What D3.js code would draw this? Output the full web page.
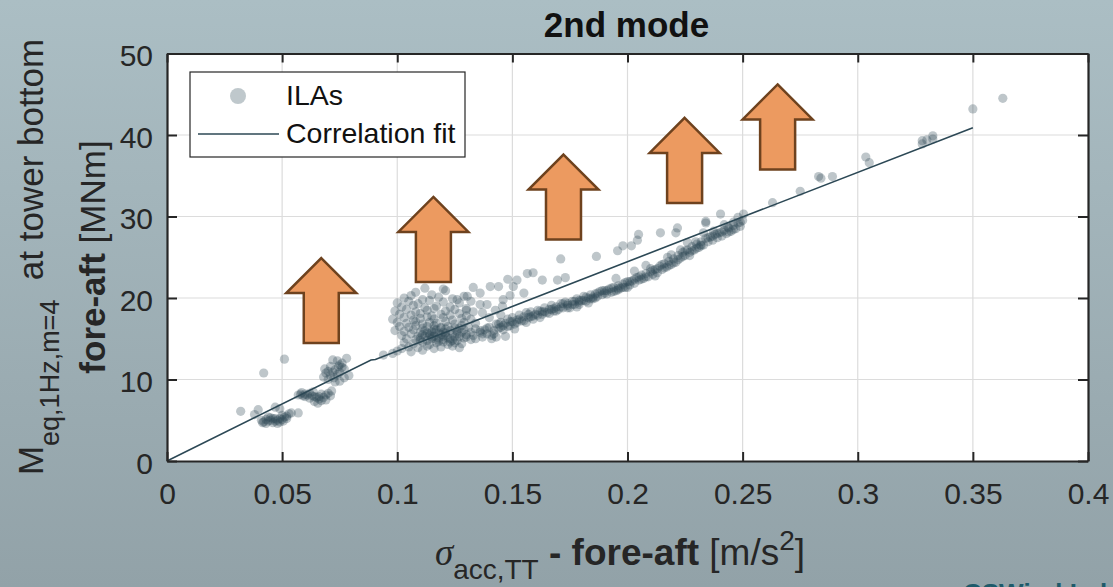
<!DOCTYPE html>
<html><head><meta charset="utf-8">
<script src="https://cdn.jsdelivr.net/npm/d3@7"></script>
<style>
html,body{margin:0;padding:0;overflow:hidden;background:#a0b2b8;}
svg{display:block;font-family:"Liberation Sans",Arial,sans-serif;}
</style></head><body>
<svg id="chart" width="1113" height="587"></svg>
<script>
// ---------- data ----------
const titleText = "2nd mode";
const xTicks = [0, 0.05, 0.1, 0.15, 0.2, 0.25, 0.3, 0.35, 0.4];
const xTickLabels = ["0", "0.05", "0.1", "0.15", "0.2", "0.25", "0.3", "0.35", "0.4"];
const yTicks = [0, 10, 20, 30, 40, 50];
const yTickLabels = ["0", "10", "20", "30", "40", "50"];
const legendLabels = ["ILAs", "Correlation fit"];

// correlation fit (x in m/s^2, y in MNm)
const fitX = [0, 0.0886, 0.0905, 0.35];
const fitY = [0, 12.4, 12.45, 40.9];

// ILA scatter clusters, [sigma_acc, M_eq]
const ilaLowA = [
[0.041,5.0],[0.042,4.8],[0.043,5.1],[0.044,4.9],[0.045,5.0],[0.046,4.7],[0.047,4.9],[0.048,5.0],[0.049,5.2],[0.050,5.1],
[0.051,5.4],[0.052,5.5],[0.053,5.8],[0.054,5.9],[0.045,5.3],[0.047,5.2],[0.049,4.8],[0.043,4.6],[0.046,5.2],[0.050,5.6],
[0.048,4.6],[0.052,5.2],[0.044,5.4],[0.0415,4.7],[0.0505,4.9],
[0.032,6.1],[0.0396,6.3],[0.042,10.8],[0.051,12.5],[0.047,6.6],[0.049,6.4],[0.057,5.9],[0.038,5.7]
];
const ilaLowB = [
[0.057,8.1],[0.058,8.2],[0.059,8.0],[0.060,8.2],[0.061,8.1],[0.062,8.3],[0.063,8.0],[0.064,7.9],[0.065,7.8],[0.066,7.6],
[0.067,7.4],[0.066,7.9],[0.068,7.8],[0.069,8.1],[0.070,8.3],[0.071,8.0],[0.0655,7.1],[0.064,7.3],[0.067,8.2],[0.062,7.7],
[0.069,7.5],[0.0715,8.6],[0.060,7.9],[0.0585,8.4],[0.0635,8.5]
];
const ilaLowC = [
[0.068,10.3],[0.069,10.8],[0.070,11.0],[0.071,10.5],[0.072,10.9],[0.073,11.2],[0.074,10.6],[0.075,10.9],[0.076,11.5],[0.077,10.2],
[0.075,9.8],[0.073,9.7],[0.071,11.6],[0.072,12.4],[0.074,12.3],[0.076,12.0],[0.078,12.6],[0.070,10.0],[0.075,11.8],[0.077,11.3],
[0.079,10.5],[0.0725,10.2],[0.0685,11.3],[0.0745,11.6]
];
const ilaBlob = [
[0.108,20.7],[0.115,20.4],[0.121,20.9],[0.112,21.2],
[0.103,20.0],[0.111,19.8],[0.118,20.1],[0.124,19.9],[0.129,20.2],[0.106,20.3],
[0.100,19.4],[0.105,19.6],[0.109,19.3],[0.114,19.7],[0.120,19.5],[0.127,19.4],[0.132,19.6],
[0.102,18.9],[0.107,19.1],[0.112,18.8],[0.117,19.0],[0.123,18.9],[0.130,18.7],
[0.099,18.4],[0.104,18.6],[0.108,18.3],[0.113,18.5],[0.116,18.7],[0.121,18.4],[0.125,18.6],[0.133,18.3],
[0.101,18.0],[0.106,17.9],[0.110,18.1],[0.115,17.8],[0.119,18.0],[0.123,17.9],[0.127,18.1],[0.130,17.8],
[0.098,17.4],[0.103,17.6],[0.107,17.3],[0.110,17.5],[0.113,17.7],[0.116,17.4],[0.120,17.6],[0.124,17.3],[0.128,17.5],[0.132,17.4],
[0.100,17.0],[0.104,16.9],[0.108,17.1],[0.111,16.8],[0.114,17.0],[0.117,16.9],[0.121,17.1],[0.125,16.8],[0.129,17.0],[0.134,16.9],
[0.101,16.5],[0.105,16.4],[0.108,16.6],[0.111,16.3],[0.113,16.5],[0.116,16.6],[0.119,16.4],[0.122,16.5],[0.125,16.3],[0.128,16.6],[0.131,16.4],[0.134,16.2],
[0.099,16.0],[0.103,15.9],[0.107,16.1],[0.110,15.8],[0.112,16.0],[0.115,15.9],[0.117,16.1],[0.120,15.8],[0.123,16.0],[0.126,15.9],[0.129,16.1],[0.132,15.8],[0.136,16.0],
[0.102,15.4],[0.106,15.6],[0.109,15.3],[0.111,15.5],[0.114,15.6],[0.116,15.3],[0.119,15.5],[0.121,15.4],[0.124,15.6],[0.127,15.3],[0.130,15.5],[0.133,15.4],
[0.104,15.0],[0.108,14.9],[0.110,15.1],[0.113,14.8],[0.115,15.0],[0.118,15.1],[0.120,14.9],[0.123,15.0],[0.126,14.8],[0.129,15.1],[0.132,14.9],
[0.103,14.5],[0.107,14.4],[0.111,14.6],[0.114,14.3],[0.117,14.5],[0.120,14.6],[0.122,14.3],[0.125,14.5],[0.128,14.4],
[0.105,14.0],[0.109,13.9],[0.113,14.1],[0.116,13.8],[0.119,14.0],[0.124,14.1],[0.127,13.9],
[0.100,13.5],[0.106,13.4],[0.111,13.6],[0.098,13.2],[0.094,13.0],[0.102,13.8],
[0.115,15.2],[0.118,15.7],[0.121,16.2],[0.117,14.9],[0.113,15.7],[0.122,15.1],[0.119,16.3],[0.116,16.2],[0.124,14.8],[0.126,15.6],[0.112,15.3],[0.120,15.3],
[0.114,15.4],[0.118,14.7],[0.121,15.7],[0.125,15.2],[0.128,15.8],[0.110,14.8],[0.116,15.8],[0.123,14.6],[0.127,16.3],[0.130,15.2]
];
const ilaUpper = [
[0.120,21.1],[0.126,19.8],[0.1304,20.2],[0.136,20.6],[0.1404,21.4],[0.144,21.4],[0.136,19.2],[0.1426,18.5],[0.130,18.5],
[0.1504,21.4],[0.155,20.6],[0.1457,19.0],[0.139,19.2],[0.146,19.8],[0.149,20.3],[0.137,18.2],[0.133,21.3],[0.140,17.6],[0.145,17.9],
[0.152,22.2],[0.1565,23.0],[0.159,23.1],[0.163,22.2],[0.1696,22.2],[0.173,22.5],[0.171,24.8],[0.1865,25.1],[0.1957,25.8],
[0.198,26.4],[0.2017,26.4],[0.2043,27.1],[0.2048,27.8],[0.2143,28.0],[0.221,28.0],[0.2217,28.6],[0.234,29.2],[0.2404,30.3],
[0.2504,30.3],[0.148,22.3]
];
const ilaBand = [
[0.134,15.0],[0.136,15.8],[0.137,15.2],[0.138,16.1],[0.139,15.6],[0.140,16.4],[0.141,15.4],[0.142,16.0],[0.143,15.2],[0.143,16.8],
[0.144,16.3],[0.145,17.0],[0.146,16.1],[0.147,16.9],[0.148,17.4],[0.148,16.5],[0.149,17.1],[0.150,17.6],[0.151,16.8],[0.152,17.3],
[0.153,17.9],[0.154,17.2],[0.155,17.7],[0.156,18.2],[0.156,17.0],[0.157,17.6],[0.158,18.3],[0.159,17.8],[0.160,18.0],[0.161,18.5],
[0.162,17.6],[0.163,18.3],[0.164,18.8],[0.165,18.2],[0.166,18.6],[0.167,19.1],[0.168,18.4],[0.169,18.9],[0.170,18.6],[0.171,19.3],
[0.172,18.8],[0.173,19.5],[0.174,19.1],[0.175,18.8],[0.176,19.6],[0.177,19.2],[0.178,19.9],[0.179,19.5],[0.180,19.7],[0.181,20.2],
[0.182,19.6],[0.183,20.0],[0.184,20.4],[0.185,19.9],[0.186,20.5],[0.187,20.2],[0.188,20.8],[0.189,20.4],[0.190,20.9],[0.191,20.5],
[0.192,21.1],[0.193,20.7],[0.194,21.3],[0.195,20.9],[0.196,21.5],[0.197,21.2],[0.198,21.7],[0.199,21.3],[0.200,22.0],[0.201,21.6],
[0.202,22.1],[0.203,21.8],[0.204,22.5],[0.205,22.2],[0.206,22.8],[0.207,22.4],[0.208,23.0],[0.209,22.6],[0.210,23.2],[0.211,22.9],
[0.212,23.5],[0.213,23.1],[0.214,23.9],[0.215,23.5],[0.216,24.2],[0.217,23.8],[0.218,24.5],[0.219,24.1],[0.220,24.8],[0.221,24.4],
[0.222,25.2],[0.223,24.9],[0.224,25.6],[0.225,25.2],[0.226,25.9],[0.227,25.6],[0.228,26.3],[0.229,25.9],[0.230,26.6],[0.231,26.2],
[0.232,26.9],[0.233,26.5],[0.234,27.3],[0.235,26.9],[0.236,27.5],[0.237,27.1],[0.238,27.8],[0.239,27.4],[0.240,28.0],[0.241,27.6],
[0.242,28.3],[0.243,27.9],[0.244,28.6],[0.245,28.2],[0.246,28.9],[0.247,28.5],[0.248,29.2],[0.249,28.8],[0.250,29.5],
[0.145,16.4],[0.152,17.0],[0.158,17.7],[0.163,18.0],[0.168,18.7],[0.174,19.3],[0.179,19.7],[0.185,20.1],[0.190,20.6],[0.196,21.0],
[0.147,15.3],[0.141,15.0],[0.151,16.2],[0.178,18.9],[0.183,19.4],[0.200,21.3],[0.212,22.7],[0.227,25.2],
[0.2174,25.0],[0.223,25.9],[0.2296,26.9],[0.233,28.0],[0.2374,28.2],[0.246,29.3],[0.248,29.9],[0.242,29.0],[0.226,26.8],[0.219,25.3],
[0.208,24.0],[0.203,23.3],[0.195,22.4],[0.234,29.4],[0.2435,28.7],[0.2317,26.5],
[0.137,15.6],[0.139,16.3],[0.142,15.6],[0.144,16.8],[0.146,16.6],[0.149,16.6],[0.150,17.1],[0.153,17.4],[0.155,17.2],[0.157,18.0],
[0.159,17.4],[0.161,17.9],[0.162,18.4],[0.164,18.3],[0.166,18.1],[0.167,18.6],[0.169,18.4],[0.171,18.9],[0.172,19.3],[0.174,18.8],
[0.176,19.2],[0.177,19.6],[0.179,19.2],[0.181,19.7],[0.182,20.1],[0.184,19.9],[0.186,20.0],[0.187,20.6],[0.189,20.9],[0.191,20.9],
[0.193,21.2],[0.194,20.8],[0.196,21.2],[0.198,21.3],[0.199,21.9],[0.201,22.0],[0.203,22.3],[0.205,22.6],[0.206,22.3],[0.208,22.6],
[0.210,23.6],[0.211,23.4],[0.213,23.6],[0.215,24.1],[0.216,23.7],[0.218,24.0],[0.220,24.3],[0.222,24.7],[0.224,25.1],[0.225,25.8],
[0.228,25.8],[0.230,26.1],[0.232,26.4],[0.235,27.4],[0.237,27.6],[0.239,27.9],[0.241,28.1],[0.244,28.1],[0.246,28.4],[0.249,29.3]
];
const ilaHigh = [
[0.263,31.7],[0.275,33.1],[0.283,34.9],[0.284,34.7],[0.289,34.9],[0.3035,37.3],[0.305,36.6],
[0.328,39.3],[0.328,38.9],[0.330,39.4],[0.3326,39.9],[0.3326,39.5],[0.350,43.2],[0.363,44.5]
];

// upward arrow annotations: centre x and tip y (data units)
const arrowX = [0.067, 0.1157, 0.1722, 0.2248, 0.2652];
const arrowTipY = [24.9, 32.4, 37.6, 42.1, 46.2];

// ---------- drawing ----------
const W = 1113, H = 587;
const L = 167, R = 1088, T = 53.5, B = 461;
const svg = d3.select("#chart");

const defs = svg.append("defs");
const grad = defs.append("linearGradient").attr("id", "bg").attr("x1", 0).attr("y1", 0).attr("x2", 0).attr("y2", 1);
grad.append("stop").attr("offset", "0%").attr("stop-color", "#abbec4");
grad.append("stop").attr("offset", "100%").attr("stop-color", "#92a2a8");
svg.append("rect").attr("width", W).attr("height", H).attr("fill", "url(#bg)");

const x = d3.scaleLinear().domain([0, 0.4]).range([L, R]);
const y = d3.scaleLinear().domain([0, 50]).range([B, T]);

svg.append("rect").attr("x", L).attr("y", T).attr("width", R - L).attr("height", B - T).attr("fill", "#ffffff");

// grid
const grid = svg.append("g").attr("stroke", "#dcdcdc").attr("stroke-width", 1.2);
grid.selectAll("line.gx").data(xTicks.slice(1, -1)).join("line")
  .attr("x1", d => x(d)).attr("x2", d => x(d)).attr("y1", T).attr("y2", B);
grid.selectAll("line.gy").data(yTicks.slice(1, -1)).join("line")
  .attr("y1", d => y(d)).attr("y2", d => y(d)).attr("x1", L).attr("x2", R);

// scatter
const allPts = [].concat(ilaLowA, ilaLowB, ilaLowC, ilaBlob, ilaUpper, ilaBand, ilaHigh);
svg.append("g").selectAll("circle").data(allPts).join("circle")
  .attr("cx", d => x(d[0])).attr("cy", d => y(d[1])).attr("r", 4.6)
  .attr("fill", "#2c4855").attr("fill-opacity", 0.31);

// fit line
const fitData = fitX.map((v, i) => [v, fitY[i]]);
svg.append("path").datum(fitData)
  .attr("d", d3.line().x(d => x(d[0])).y(d => y(d[1])))
  .attr("fill", "none").attr("stroke", "#2c4855").attr("stroke-width", 1.6);

// axes
const axColor = "#262626";
const fs = 30;
const gx = svg.append("g").attr("transform", `translate(0,${B})`)
  .call(d3.axisBottom(x).tickValues(xTicks).tickFormat((d, i) => xTickLabels[i]).tickSizeInner(-9).tickSizeOuter(0).tickPadding(22));
const gxt = svg.append("g").attr("transform", `translate(0,${T})`)
  .call(d3.axisTop(x).tickValues(xTicks).tickFormat("").tickSizeInner(-9).tickSizeOuter(0));
const gy = svg.append("g").attr("transform", `translate(${L},0)`)
  .call(d3.axisLeft(y).tickValues(yTicks).tickFormat((d, i) => yTickLabels[i]).tickSizeInner(-10).tickSizeOuter(0).tickPadding(14));
const gyr = svg.append("g").attr("transform", `translate(${R},0)`)
  .call(d3.axisRight(y).tickValues(yTicks).tickFormat("").tickSizeInner(-10).tickSizeOuter(0));
[gx, gxt, gy, gyr].forEach(g => {
  g.select(".domain").attr("stroke", axColor).attr("stroke-width", 2.2);
  g.selectAll(".tick line").attr("stroke", axColor).attr("stroke-width", 2);
  g.selectAll(".tick text").attr("fill", "#262626").style("font-size", fs + "px").style("font-family", "'Liberation Sans', Arial, sans-serif");
});
gx.selectAll(".tick text").attr("dy", "0.71em");
gy.selectAll(".tick text").attr("dy", "0.4em");

// title
svg.append("text").attr("x", (L + R) / 2 - 1).attr("y", 37).attr("text-anchor", "middle")
  .style("font-size", "35px").style("font-weight", "bold").attr("fill", "#111").text(titleText);

// y label (two lines)
const yl1 = svg.append("text").attr("transform", "translate(43,257) rotate(-90)").attr("text-anchor", "middle")
  .style("font-size", "35px").attr("fill", "#262626");
yl1.append("tspan").text("M");
yl1.append("tspan").attr("dy", 16).style("font-size", "27px").text("eq,1Hz,m=4");
yl1.append("tspan").attr("dy", -16).text("\u00a0 at tower bottom");
const yl2 = svg.append("text").attr("transform", "translate(105,257) rotate(-90)").attr("text-anchor", "middle")
  .style("font-size", "35px").attr("fill", "#262626");
yl2.append("tspan").style("font-weight", "bold").text("fore-aft");
yl2.append("tspan").text(" [MNm]");

// x label
const xl = svg.append("text").attr("x", 620).attr("y", 565).attr("text-anchor", "middle")
  .style("font-size", "37px").attr("fill", "#262626");
xl.append("tspan").style("font-family", "'Liberation Serif', serif").style("font-style", "italic").text("\u03c3");
xl.append("tspan").attr("dy", 14).style("font-size", "28px").text("acc,TT");
xl.append("tspan").attr("dy", -14).style("font-weight", "bold").text(" - fore-aft");
xl.append("tspan").text(" [m/s");
xl.append("tspan").attr("dy", -15).style("font-size", "28px").text("2");
xl.append("tspan").attr("dy", 15).text("]");

// arrows
const aw = 35, shaft = 17.5, head = 35, len = 85;
const arrowData = arrowX.map((v, i) => [v, arrowTipY[i]]);
svg.append("g").selectAll("path").data(arrowData).join("path")
  .attr("d", d => {
    const cx = x(d[0]), ty = y(d[1]);
    return `M${cx},${ty} L${cx + aw},${ty + head} L${cx + shaft},${ty + head} L${cx + shaft},${ty + len} L${cx - shaft},${ty + len} L${cx - shaft},${ty + head} L${cx - aw},${ty + head} Z`;
  })
  .attr("fill", "#ec9a60").attr("stroke", "#6e421e").attr("stroke-width", 2.5).attr("stroke-linejoin", "miter");

// legend
const lg = svg.append("g");
lg.append("rect").attr("x", 190).attr("y", 72).attr("width", 275).attr("height", 85)
  .attr("fill", "#fff").attr("stroke", "#262626").attr("stroke-width", 1.2);
lg.append("circle").attr("cx", 238).attr("cy", 96).attr("r", 8).attr("fill", "#2c4855").attr("fill-opacity", 0.3);
lg.append("line").attr("x1", 198).attr("x2", 279).attr("y1", 134).attr("y2", 134)
  .attr("stroke", "#2c4855").attr("stroke-width", 1.6);
lg.append("text").attr("x", 286).attr("y", 105).style("font-size", "28.5px").attr("fill", "#111").text(legendLabels[0]);
lg.append("text").attr("x", 286).attr("y", 143).style("font-size", "28.5px").attr("fill", "#111").text(legendLabels[1]);

// footer watermark (clipped at bottom, as in the source slide)
svg.append("text").attr("x", 963).attr("y", 602).style("font-size", "26px").style("font-weight", "bold")
  .attr("fill", "#1e5a6a").text("CSWind Lab 2");
</script></body></html>
